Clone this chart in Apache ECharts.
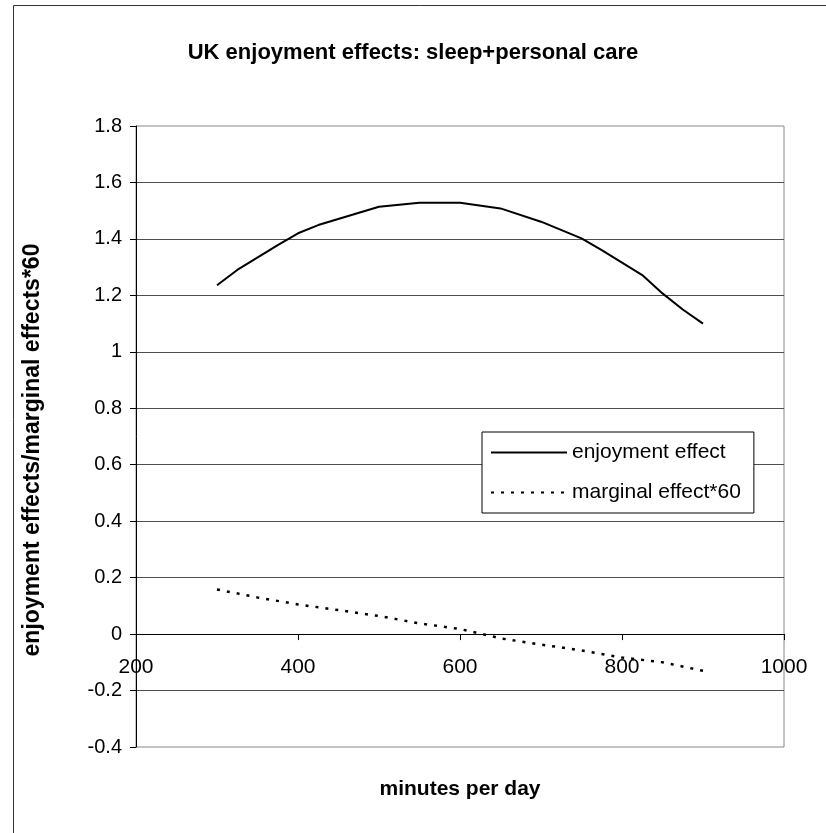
<!DOCTYPE html>
<html>
<head>
<meta charset="utf-8">
<script src="https://cdn.jsdelivr.net/npm/echarts@6/dist/echarts.min.js"></script>
<style>html,body{margin:0;padding:0;background:#fff;}#c{width:826px;height:833px;}</style>
</head>
<body>
<div id="c"></div>
<script>
const titleText = 'UK enjoyment effects: sleep+personal care';
const xAxisTitle = 'minutes per day';
const yAxisTitle = 'enjoyment effects/marginal effects*60';
const seriesNames = ['enjoyment effect', 'marginal effect*60'];
const minutesEnjoy = [300, 325, 375, 400, 425, 500, 550, 600, 650, 700, 750, 775, 825, 850, 875, 900];
const enjoyment = [1.236, 1.29, 1.378, 1.42, 1.449, 1.514, 1.528, 1.528, 1.508, 1.461, 1.402, 1.36, 1.272, 1.207, 1.15, 1.10];
const minutesMarg = [300, 350, 400, 450, 500, 550, 600, 650, 700, 750, 800, 850, 900];
const marginal = [0.158, 0.130, 0.105, 0.085, 0.064, 0.038, 0.018, -0.015, -0.037, -0.058, -0.083, -0.10, -0.13];
const xRange = [200, 1000, 200];
const yRange = [-0.4, 1.8, 0.2];

const FONT = '"Liberation Sans", Arial, sans-serif';
const GRID = {left: 136, right: 42, top: 126, bottom: 86};
const plotH = 833 - GRID.top - GRID.bottom;
// distance (px) from the bottom of the plot to the y = 0 line, for placing the x axis there
const zeroOffset = -plotH * (0 - yRange[0]) / (yRange[1] - yRange[0]);

const chart = echarts.init(document.getElementById('c'), null, {renderer: 'canvas'});
chart.setOption({
  animation: false,
  backgroundColor: '#fff',
  graphic: [{
    type: 'rect', shape: {x: 13.5, y: 5.5, width: 900, height: 900},
    style: {fill: 'none', stroke: '#333', lineWidth: 1}, z: 100
  }, {
    type: 'text', x: 33, y: 450, rotation: Math.PI / 2,
    style: {text: yAxisTitle, align: 'center', verticalAlign: 'middle',
      font: 'bold 23px "Liberation Sans", Arial, sans-serif', fill: '#000'}
  }],
  title: {
    text: titleText, left: 'center', top: 42, padding: 0,
    textStyle: {fontFamily: FONT, fontSize: 22, fontWeight: 'bold', color: '#000'}
  },
  grid: Object.assign({show: true, borderColor: '#888', borderWidth: 1,
    backgroundColor: 'transparent', containLabel: false, outerBoundsMode: 'none'}, GRID),
  legend: {
    orient: 'vertical', left: 482, top: 432,
    padding: [10, 13, 10, 8], itemWidth: 76, itemHeight: 14, itemGap: 19,
    borderColor: '#000', borderWidth: 1, backgroundColor: '#fff', borderRadius: 0,
    itemStyle: {opacity: 0},
    textStyle: {fontFamily: FONT, fontSize: 21, color: '#000'},
    data: seriesNames
  },
  xAxis: {
    type: 'value', min: xRange[0], max: xRange[1], interval: xRange[2],
    position: 'bottom', offset: zeroOffset,
    name: xAxisTitle, nameLocation: 'middle', nameGap: 145,
    nameTextStyle: {fontFamily: FONT, fontSize: 21, fontWeight: 'bold', color: '#000'},
    axisLine: {show: true, onZero: false, lineStyle: {color: '#000', width: 1}},
    axisTick: {show: true, inside: false, length: 6, lineStyle: {color: '#000'}},
    axisLabel: {fontFamily: FONT, fontSize: 21, color: '#000', margin: 23, formatter: v => String(v)},
    splitLine: {show: false}
  },
  yAxis: {
    type: 'value', min: yRange[0], max: yRange[1], interval: yRange[2],
    axisLine: {show: true, onZero: false, lineStyle: {color: '#000', width: 1}},
    axisTick: {show: true, inside: false, length: 6, lineStyle: {color: '#000'}},
    axisLabel: {fontFamily: FONT, fontSize: 20, color: '#000', margin: 14,
      formatter: v => String(+v.toFixed(1))},
    splitLine: {show: true, showMinLine: false, showMaxLine: false, lineStyle: {color: '#4d4d4d', width: 1}}
  },
  series: [{
    name: seriesNames[0], type: 'line', symbol: 'none', smooth: false,
    data: minutesEnjoy.map((m, i) => [m, enjoyment[i]]),
    lineStyle: {color: '#000', width: 2, type: 'solid'},
    itemStyle: {color: '#000'}, z: 5
  }, {
    name: seriesNames[1], type: 'line', symbol: 'none', smooth: false,
    data: minutesMarg.map((m, i) => [m, marginal[i]]),
    lineStyle: {color: '#000', width: 2.5, type: [3, 7]},
    itemStyle: {color: '#000'}, z: 5
  }]
});
</script>
</body>
</html>
